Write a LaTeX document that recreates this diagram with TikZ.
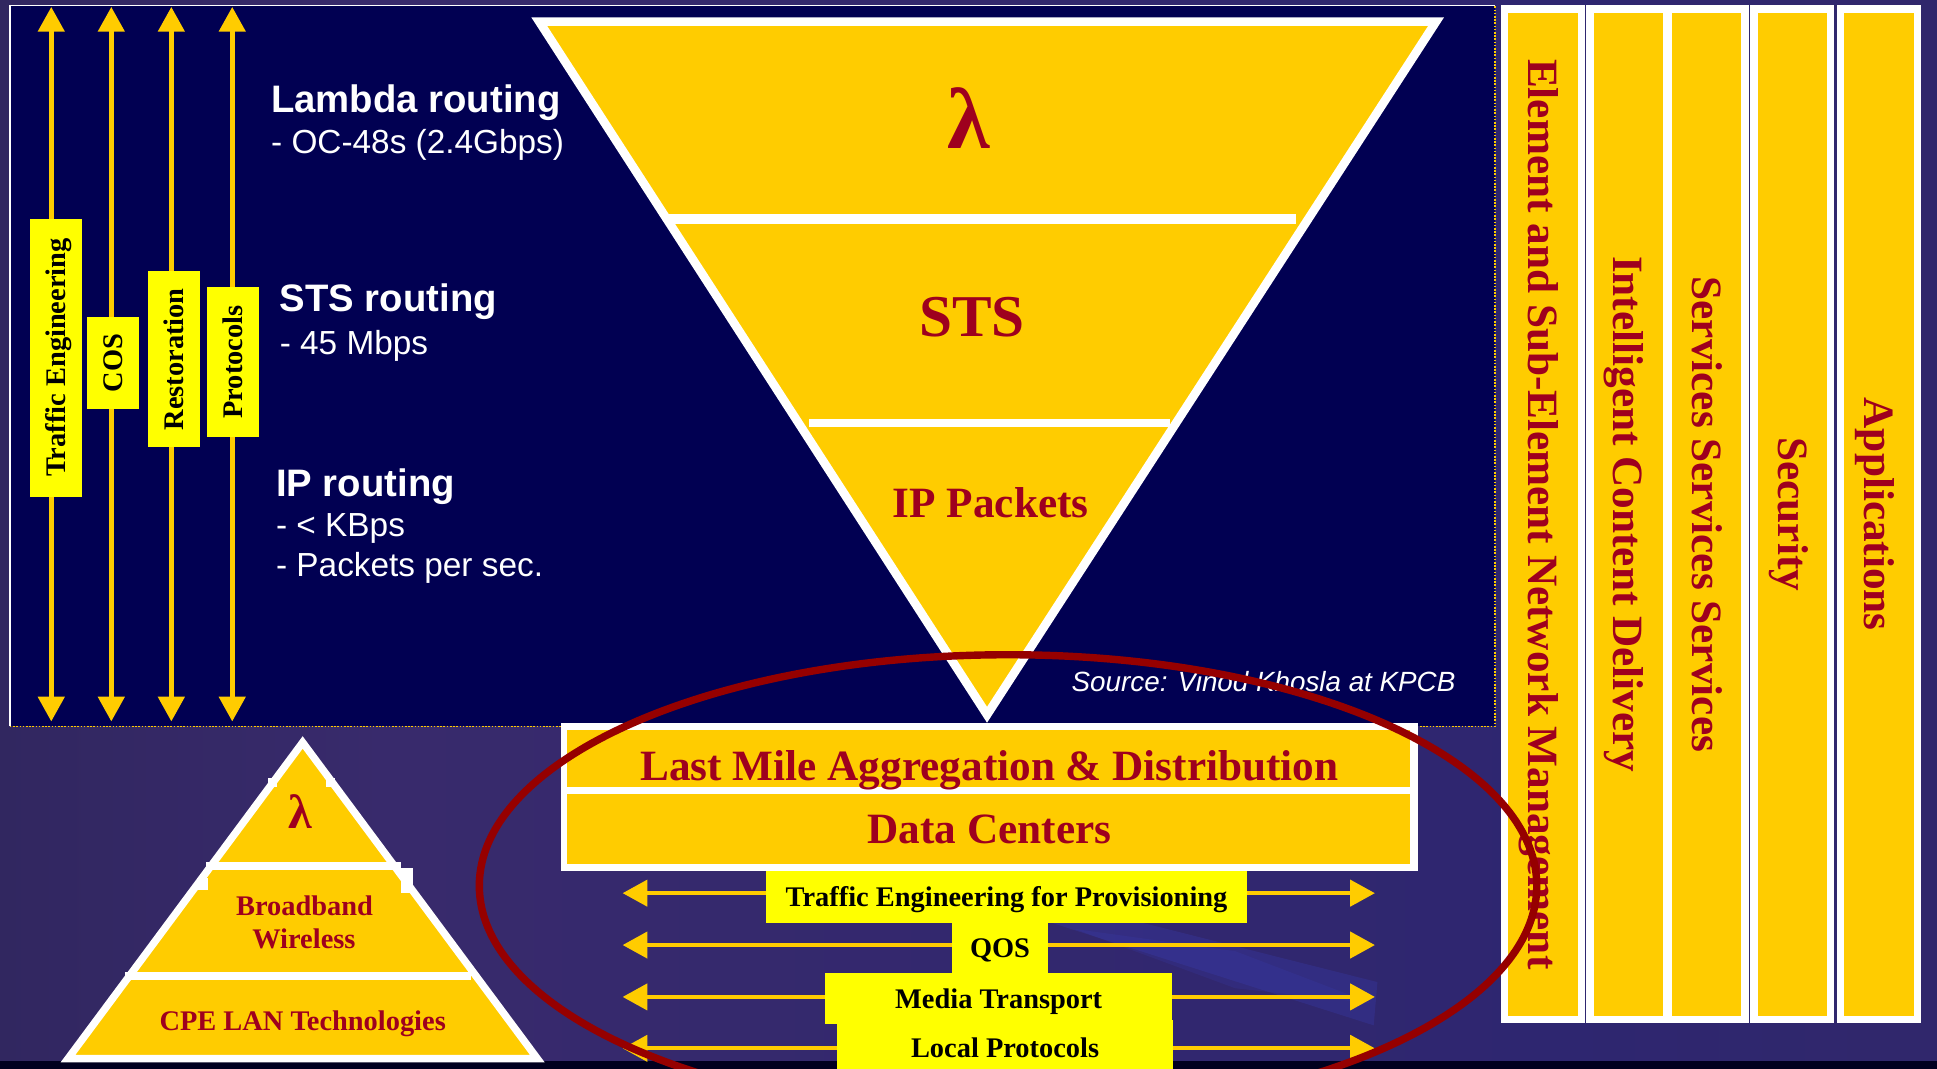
\documentclass[tikz,border=0pt]{standalone}
\usepackage{fontspec}
\setmainfont{Liberation Serif}
\newfontfamily\arialfam{Liberation Sans}
\usetikzlibrary{arrows.meta}

\definecolor{panelnavy}{RGB}{1,0,82}
\definecolor{gold}{RGB}{255,204,0}
\definecolor{lemon}{RGB}{255,255,0}
\definecolor{wine}{RGB}{158,0,30}
\definecolor{ring}{RGB}{150,0,0}
\definecolor{bgA}{RGB}{32,31,66}
\definecolor{bgB}{RGB}{56,42,108}
\definecolor{bgC}{RGB}{46,38,112}
\definecolor{bgD}{RGB}{54,42,96}
\definecolor{streak}{RGB}{60,70,200}
\pgfdeclarehorizontalshading{bgshade}{100bp}{color(0bp)=(bgA); color(35bp)=(bgB); color(65bp)=(bgC); color(100bp)=(bgD)}

\newcommand\fsz[2]{\fontsize{#1}{#2}\selectfont}

\tikzset{
  darrow/.style={gold, line width=3.8pt,
    {Triangle[width=21pt,length=20pt]}-{Triangle[width=21pt,length=20pt]}},
  vlabel/.style={fill=lemon, text=black, rotate=90, inner sep=0pt,
    minimum height=42pt, text height=15.5pt, text depth=0pt,
    font=\bfseries\fsz{23}{27}},
  hlabel/.style={fill=lemon, text=black, inner sep=0pt,
    text height=15.5pt, text depth=0pt, font=\bfseries\fsz{23}{27}},
  column/.style={draw=white, line width=6pt, fill=gold, rotate=-90,
    minimum width=818pt, minimum height=62pt, inner sep=0pt,
    text=wine, text height=23.2pt, text depth=0pt,
    font=\bfseries\fsz{35}{40}},
  whitehead/.style={text=white, anchor=base west, font=\arialfam\bfseries\fsz{31}{36}},
  whiteline/.style={text=white, anchor=base west, font=\arialfam\fsz{27}{32}},
  winetext/.style={text=wine, anchor=base, font=\bfseries\fsz{#1}{#1}},
  winetext/.default=35,
  bar/.style={fill=white},
}

\begin{document}
\begin{tikzpicture}[x=1pt,y=-1pt]
\useasboundingbox (0,0) rectangle (1568,865);

% backdrop
\shade[shading=bgshade] (0,0) rectangle (1568,865);
\fill[streak, opacity=0.22] (845,745) -- (905,742) -- (1115,795) -- (1112,830) -- cycle;
\fill[streak, opacity=0.15] (870,752) -- (1000,770) -- (1110,812) -- (1000,800) -- cycle;
\fill[black!88!blue] (0,859) rectangle (1568,865);

% dark routing panel
\fill[panelnavy] (8,4.5) rectangle (1210,588);
\draw[white, line width=1pt] (8,588) -- (8,4.5) -- (1210,4.5);
\draw[gold, line width=1.2pt, dash pattern=on 1.3pt off 1.3pt] (8,588) -- (1210,588) -- (1210,4.5);

% vertical control arrows
\foreach \n/\x in {te/41.5, cos/90.1, rst/138.7, prt/188}{
  \coordinate (\n-top) at (\x,5.6);
  \coordinate (\n-bot) at (\x,584);
  \draw[darrow] (\n-top) -- (\n-bot);
}
\node[vlabel, minimum width=225pt]   (teL)  at (45.3,289.5) {Traffic Engineering};
\node[vlabel, minimum width=74.4pt]  (cosL) at (91.5,293.8) {COS};
\node[vlabel, minimum width=142.4pt] (rstL) at (141,290.8) {Restoration};
\node[vlabel, minimum width=121.5pt] (prtL) at (188.7,293) {Protocols};

% routing descriptions
\node[whitehead] (lamR) at (216,91)  {Lambda routing};
\node[whiteline] (lamS) at (216,124) {- OC-48s (2.4Gbps)};
\node[whitehead] (stsR) at (223,252) {STS routing};
\node[whiteline] (stsS) at (223,287) {- 45 Mbps};
\node[whitehead] (ipR)  at (220,402) {IP routing};
\node[whiteline] (ipS1) at (220,434) {- < KBps};
\node[whiteline] (ipS2) at (220,467) {- Packets per sec.};

% inverted triangle of switching granularity
\coordinate (vA) at (436.5,17.5);
\coordinate (vB) at (1162.5,17.5);
\coordinate (vC) at (799,578.6);
\draw[white, line width=7pt, fill=gold, line join=miter] (vA) -- (vB) -- (vC) -- cycle;
\fill[bar] (541,173) rectangle (1049,181);
\fill[bar] (655,339) rectangle (947,346);
\node[winetext=70] (vLam) at (784.5,120.5) {λ};
\node[winetext=48] (vSts) at (787,272) {STS};
\node[winetext=35] (vIp)  at (802,419) {IP Packets};

\node[text=white, anchor=base west, font=\arialfam\itshape\fsz{22.5}{26}] (src) at (864,560) {Source: Vinod Khosla at KPCB};

% service columns
\node[column] (c1) at (1249,416.3)   {Element and Sub-Element Network Management};
\node[column] (c2) at (1318,416.3)   {Intelligent Content Delivery};
\node[column] (c3) at (1381.5,416.3) {Services Services Services};
\node[column] (c4) at (1451,416.3)   {Security};
\node[column] (c5) at (1521,416.3)   {Applications};

% access pyramid
\coordinate (pA) at (245,601);
\coordinate (pB) at (55,857);
\coordinate (pC) at (435,857);
\draw[white, line width=6pt, fill=gold, line join=miter] (pA) -- (pB) -- (pC) -- cycle;
\fill[bar] (167,698) rectangle (325,704);
\fill[bar] (101,787) rectangle (381,793);
\fill[bar] (217,630) rectangle (224,637);
\fill[bar] (264,630) rectangle (271,637);
\fill[bar] (159.5,711) rectangle (168.5,720.5);
\fill[bar] (325,703) rectangle (334,723);
\node[winetext=39] (pLam) at (243,670.5) {λ};
\node[winetext=23] (pBb) at (246.5,740.7) {Broadband};
\node[winetext=23] (pWl) at (246,767.6) {Wireless};
\node[winetext=23] (pCpe) at (245,834) {CPE LAN Technologies};

% aggregation block
\node[fill=white, minimum width=694pt, minimum height=120pt, inner sep=0pt] (agg) at (801,645) {};
\node[fill=gold, minimum width=682pt, minimum height=46pt, inner sep=0pt] (lastmile) at (800,614) {};
\node[fill=gold, minimum width=682pt, minimum height=56pt, inner sep=0pt] (datac) at (800,671) {};
\node[winetext=35] (lmT) at (801,631.5) {Last Mile Aggregation \& Distribution};
\node[winetext=35] (dcT) at (801,682.6) {Data Centers};

% horizontal service arrows
\foreach \n/\y in {h1/723, h2/765, h3/807, h4/848.6}{
  \coordinate (\n-l) at (504,\y);
  \coordinate (\n-r) at (1113,\y);
  \draw[darrow, line width=3.4pt] (\n-l) -- (\n-r);
}
\node[hlabel, minimum width=389.5pt, minimum height=42pt]  (tep)   at (814.8,726)   {Traffic Engineering for Provisioning};
\node[hlabel, minimum width=77.6pt,  minimum height=40.6pt](qos)   at (809.5,767.3) {QOS};
\node[hlabel, minimum width=272pt,   minimum height=44pt]  (local) at (813.6,848)   {Local Protocols};
\node[hlabel, minimum width=280.8pt, minimum height=41.4pt](media) at (808.4,808.3) {Media Transport};

% highlight ring
\coordinate (ringc) at (816,717);
\draw[ring, line width=6pt] (ringc) ellipse [x radius=428pt, y radius=187pt];
\end{tikzpicture}
\end{document}
